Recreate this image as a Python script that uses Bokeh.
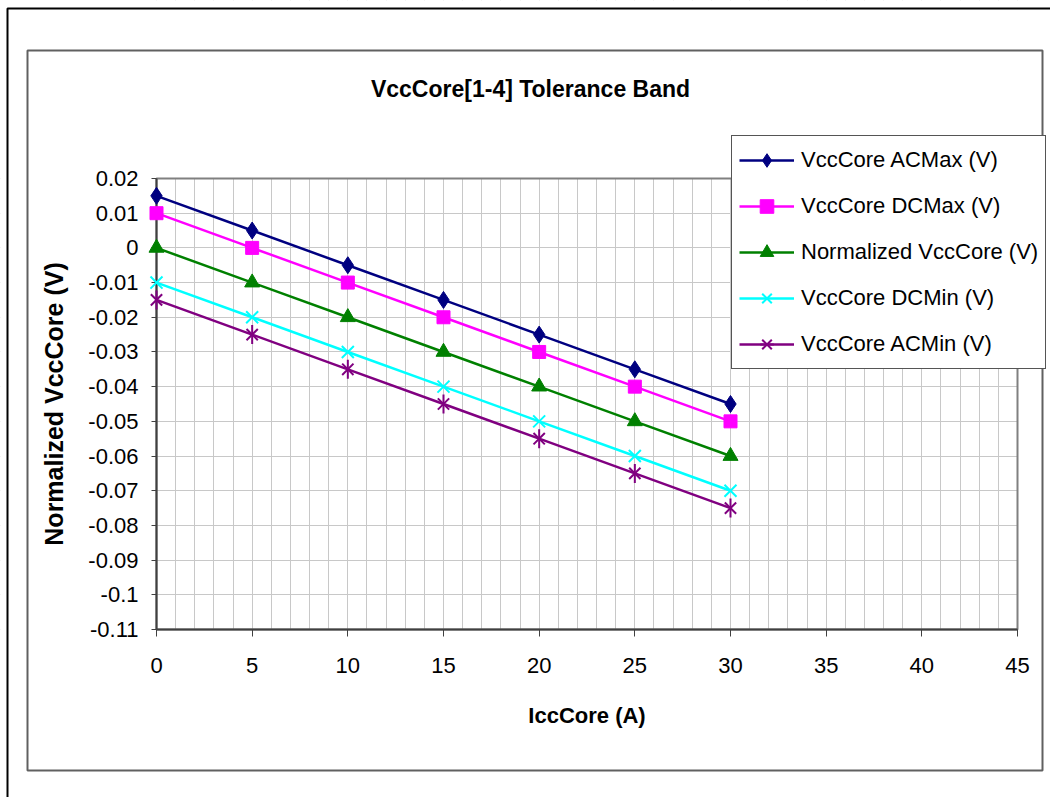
from bokeh.plotting import figure
from bokeh.models import (Range1d, SingleIntervalTicker, FixedTicker, Legend,
                          LegendItem, BoxAnnotation, Label, LinearAxis, Grid)
from bokeh.embed import file_html
from bokeh.resources import INLINE

# ---------------- data ----------------
ICC_CORE = [0, 5, 10, 15, 20, 25, 30]
VCC_AC_MAX = [0.015, 0.005, -0.005, -0.015, -0.025, -0.035, -0.045]
VCC_DC_MAX = [0.01, 0.0, -0.01, -0.02, -0.03, -0.04, -0.05]
VCC_NORMALIZED = [0.0, -0.01, -0.02, -0.03, -0.04, -0.05, -0.06]
VCC_DC_MIN = [-0.01, -0.02, -0.03, -0.04, -0.05, -0.06, -0.07]
VCC_AC_MIN = [-0.015, -0.025, -0.035, -0.045, -0.055, -0.065, -0.075]

SERIES_NAMES = ["VccCore ACMax (V)", "VccCore DCMax (V)", "Normalized VccCore (V)",
                "VccCore DCMin (V)", "VccCore ACMin (V)"]

X_MIN, X_MAX = 0, 45
Y_MIN, Y_MAX = -0.11, 0.02
Y_TICKS = [0.02, 0.01, 0.0, -0.01, -0.02, -0.03, -0.04, -0.05, -0.06,
           -0.07, -0.08, -0.09, -0.1, -0.11]
Y_TICK_LABELS = ["0.02", "0.01", "0", "-0.01", "-0.02", "-0.03", "-0.04", "-0.05",
                 "-0.06", "-0.07", "-0.08", "-0.09", "-0.1", "-0.11"]

TITLE = "VccCore[1-4] Tolerance Band"
X_LABEL = "IccCore (A)"
Y_LABEL = "Normalized VccCore (V)"

FONT = "Liberation Sans"

# ---------------- layout (pixels) ----------------
W, H = 1050, 797
PLOT_LEFT, PLOT_RIGHT, PLOT_TOP, PLOT_BOTTOM = 156, 1017, 178, 629
KX = (PLOT_RIGHT - PLOT_LEFT) / (X_MAX - X_MIN)
KY = (PLOT_BOTTOM - PLOT_TOP) / (Y_MAX - Y_MIN)


def px2x(px):
    return X_MIN + (px - PLOT_LEFT) / KX


def px2y(py):
    return Y_MAX - (py - PLOT_TOP) / KY


p = figure(width=W, height=H, output_backend="svg", toolbar_location=None,
           x_range=Range1d(px2x(0), px2x(W)), y_range=Range1d(px2y(H), px2y(0)),
           x_axis_type=None, y_axis_type=None,
           min_border=0, min_border_left=0, min_border_right=0,
           min_border_top=0, min_border_bottom=0)
p.background_fill_color = "white"
p.border_fill_color = "white"
p.outline_line_color = None

# grids
xg = Grid(dimension=0, ticker=SingleIntervalTicker(interval=1),
          grid_line_color="#c8c8c8", grid_line_width=1)
yg = Grid(dimension=1, ticker=FixedTicker(ticks=Y_TICKS),
          grid_line_color="#c8c8c8", grid_line_width=1)
p.add_layout(xg, "center")
p.add_layout(yg, "center")

# white covers outside the plot area (hide grid outside)
for kw in (dict(right=X_MIN), dict(left=X_MAX), dict(bottom=Y_MAX), dict(top=Y_MIN)):
    p.add_layout(BoxAnnotation(fill_color="white", fill_alpha=1.0, line_color=None,
                               level="underlay", **kw))

# plot-area border (top/right grey)
p.add_layout(BoxAnnotation(left=X_MIN, right=X_MAX, bottom=Y_MIN, top=Y_MAX,
                           fill_color=None, fill_alpha=0, line_color="#808080",
                           line_alpha=1.0, line_width=2, level="underlay"))

# axes
xa = LinearAxis(fixed_location=Y_MIN, bounds=(X_MIN, X_MAX),
                ticker=SingleIntervalTicker(interval=5, num_minor_ticks=0),
                axis_label=X_LABEL)
ya = LinearAxis(fixed_location=X_MIN, bounds=(Y_MIN, Y_MAX),
                ticker=FixedTicker(ticks=Y_TICKS, minor_ticks=[]),
                axis_label=Y_LABEL)
ya.major_label_overrides = {t: s for t, s in zip(Y_TICKS, Y_TICK_LABELS)}

for ax in (xa, ya):
    ax.axis_line_color = "#404040"
    ax.axis_line_width = 2
    ax.major_tick_line_color = "#404040"
    ax.major_tick_line_width = 1
    ax.major_tick_in = 0
    ax.minor_tick_line_color = None
    ax.major_label_text_font = FONT
    ax.major_label_text_font_size = "22px"
    ax.major_label_text_color = "black"
    ax.axis_label_text_font = FONT
    ax.axis_label_text_font_style = "bold"
    ax.axis_label_text_color = "black"

xa.major_tick_out = 7
xa.major_label_standoff = 21
xa.axis_label_text_font_size = "22px"
xa.axis_label_standoff = 27
ya.major_tick_out = 5
ya.major_label_standoff = 13
ya.axis_label_text_font_size = "25px"
ya.axis_label_standoff = 17
p.add_layout(xa, "below")
p.add_layout(ya, "left")

# ---------------- series ----------------
series = [
    (VCC_AC_MAX, "#000080", "diamond", 17),
    (VCC_DC_MAX, "#ff00ff", "square", 13),
    (VCC_NORMALIZED, "#008000", "triangle", 15),
    (VCC_DC_MIN, "#00ffff", "x", 17),
    (VCC_AC_MIN, "#800080", "x", 16),
]

items = []
for (vals, color, marker, size), name in zip(series, SERIES_NAMES):
    ln = p.line(ICC_CORE, vals, line_color=color, line_width=2.5, level="overlay")
    rs = [ln]
    if marker == "x":
        sc = p.scatter(ICC_CORE, vals, marker="x", size=size, line_color=color,
                       line_width=2, level="overlay")
        rs.append(sc)
        if color == "#800080":
            sc2 = p.scatter(ICC_CORE, vals, marker="dash", size=size + 3, angle=1.5708,
                            line_color=color, line_width=2, level="overlay")
            rs.append(sc2)
    else:
        sc = p.scatter(ICC_CORE, vals, marker=marker, size=size, fill_color=color,
                       line_color=color, line_width=1, level="overlay")
        rs.append(sc)
    items.append(LegendItem(label=name, renderers=rs))

LEGEND_LEFT, LEGEND_BOTTOM = 731, 369
legend = Legend(items=items, location=(LEGEND_LEFT, H - LEGEND_BOTTOM),
                orientation="vertical",
                label_text_font=FONT, label_text_font_size="22px",
                label_text_color="black",
                glyph_width=55, glyph_height=34, label_height=34,
                label_standoff=7, spacing=12, padding=7, margin=0,
                border_line_color="#555555", border_line_width=1.5,
                border_line_alpha=1.0,
                background_fill_color="white", background_fill_alpha=1.0)
p.add_layout(legend)

# ---------------- frames and title ----------------
p.add_layout(BoxAnnotation(left=px2x(7), right=px2x(W + 50), top=px2y(8),
                           bottom=px2y(H + 50), fill_color=None, fill_alpha=0,
                           line_color="black", line_alpha=1.0, line_width=2))
p.add_layout(BoxAnnotation(left=px2x(27), right=px2x(1042), top=px2y(50),
                           bottom=px2y(770), fill_color=None, fill_alpha=0,
                           line_color="#606060", line_alpha=1.0, line_width=2))

p.add_layout(Label(x=px2x(530), y=px2y(88), text=TITLE,
                   text_align="center", text_baseline="middle",
                   text_font=FONT, text_font_size="23px", text_font_style="bold",
                   text_color="black"))

open("out.html", "w").write(file_html(p, INLINE))
